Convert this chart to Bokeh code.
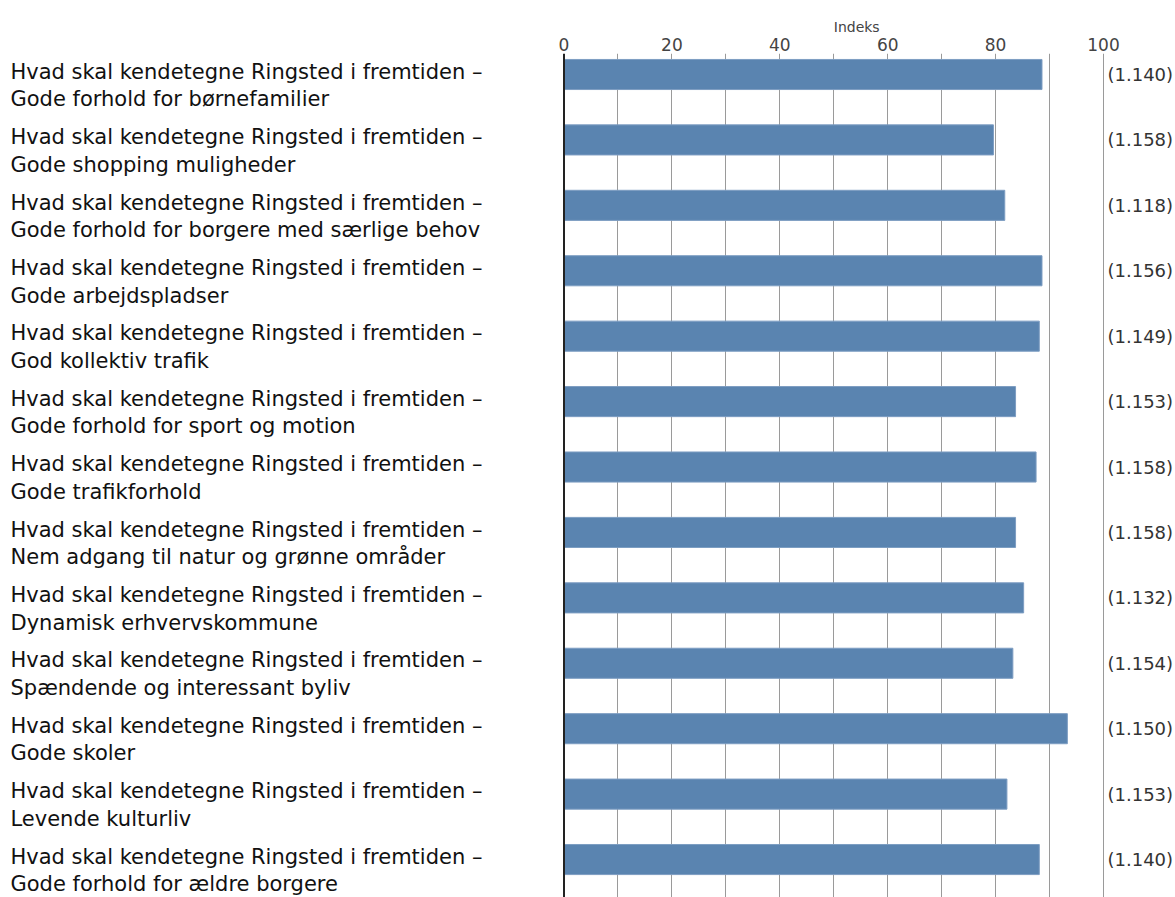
from bokeh.plotting import figure
from bokeh.models import Range1d, FixedTicker, Span, ColumnDataSource
from bokeh.core.properties import value
from bokeh.embed import file_html
from bokeh.resources import INLINE

prefix = "Hvad skal kendetegne Ringsted i fremtiden \u2013"
categories = [
    "Gode forhold for børnefamilier",
    "Gode shopping muligheder",
    "Gode forhold for borgere med særlige behov",
    "Gode arbejdspladser",
    "God kollektiv trafik",
    "Gode forhold for sport og motion",
    "Gode trafikforhold",
    "Nem adgang til natur og grønne områder",
    "Dynamisk erhvervskommune",
    "Spændende og interessant byliv",
    "Gode skoler",
    "Levende kulturliv",
    "Gode forhold for ældre borgere",
]
index_values = [88.6, 79.6, 81.7, 88.6, 88.1, 83.7, 87.5, 83.7, 85.2, 83.2, 93.3, 82.1, 88.1]
counts = ["(1.140)", "(1.158)", "(1.118)", "(1.156)", "(1.149)", "(1.153)", "(1.158)",
          "(1.158)", "(1.132)", "(1.154)", "(1.150)", "(1.153)", "(1.140)"]
axis_ticks = [0, 20, 40, 60, 80, 100]
grid_ticks = [10, 20, 30, 40, 50, 60, 70, 80, 90, 100]
axis_title = "Indeks"

W, H = 1175, 897
px_per_unit = 5.395
zero_px = 563.5
x0 = -zero_px / px_per_unit
x1 = (W - zero_px) / px_per_unit

row_px = 65.42
top_frame = 53
first_center = 74
y_top = -(first_center - top_frame) / row_px
y_bot = (H - first_center) / row_px

rows = list(range(len(categories)))
src = ColumnDataSource(dict(
    y=rows,
    v=index_values,
    lab=[prefix + "\n" + c for c in categories],
    cnt=counts,
))

p = figure(width=W, height=H, output_backend="svg", toolbar_location=None,
           x_range=Range1d(x0, x1), y_range=Range1d(y_bot, y_top),
           x_axis_location="above", y_axis_location=None,
           min_border_left=0, min_border_right=0, min_border_bottom=0,
           min_border_top=top_frame)
p.outline_line_color = None
p.background_fill_color = "white"
p.border_fill_color = "white"

# axis title placed over the centre of the 0-100 scale
p.title.text = axis_title
p.title.align = "left"
p.title.offset = zero_px + 50 * px_per_unit
p.title.text_font = "DejaVu Sans"
p.title.text_font_style = "normal"
p.title.text_font_size = "14px"
p.title.text_color = "#444444"
p.title.standoff = 0

p.xgrid.ticker = FixedTicker(ticks=grid_ticks)
p.xgrid.grid_line_color = "#9a9a9a"
p.xgrid.grid_line_width = 1
p.ygrid.visible = False

ax = p.xaxis[0]
ax.ticker = FixedTicker(ticks=axis_ticks)
ax.axis_line_color = None
ax.major_tick_line_color = None
ax.minor_tick_line_color = None
ax.major_tick_out = 0
ax.major_tick_in = 0
ax.minor_tick_out = 0
ax.minor_tick_in = 0
ax.major_label_text_font = "DejaVu Sans"
ax.major_label_text_font_size = "17px"
ax.major_label_text_color = "#444444"
ax.major_label_standoff = 3

p.hbar(y="y", left=0, right="v", height=0.46, source=src,
       fill_color="#5a84b0", line_color="#7d9dc2", line_width=1)

p.add_layout(Span(location=0, dimension="height", line_color="#222222", line_width=2))

p.text(x=x0 + 10 / px_per_unit, y="y", text="lab", source=src,
       text_font=value("DejaVu Sans"), text_font_size="21px", text_color="#111111",
       text_align="left", text_baseline="middle", y_offset=11, text_line_height=1.15)

p.text(x=100 + 4 / px_per_unit, y="y", text="cnt", source=src,
       text_font=value("DejaVu Sans"), text_font_size="18px", text_color="#333333",
       text_align="left", text_baseline="middle")

open("out.html", "w").write(file_html(p, INLINE))
